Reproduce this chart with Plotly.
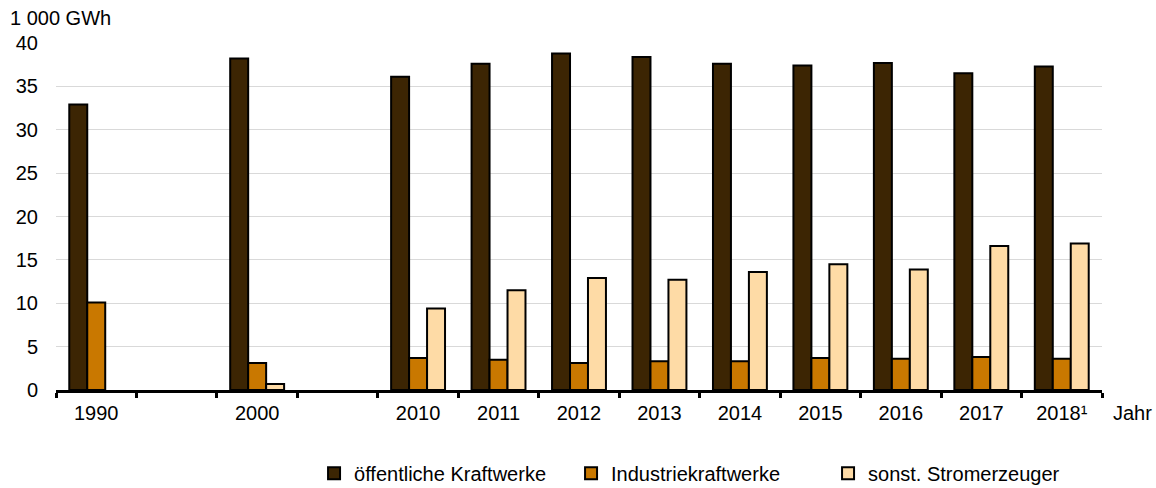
import plotly.graph_objects as go

categories = ["1990", " ", "2000", "  ", "2010", "2011", "2012", "2013",
              "2014", "2015", "2016", "2017", "2018¹"]
oeffentliche = [32.9, None, 38.2, None, 36.1, 37.6, 38.8, 38.4, 37.6, 37.4, 37.7, 36.5, 37.3]
industrie = [10.1, None, 3.1, None, 3.7, 3.5, 3.1, 3.3, 3.3, 3.7, 3.6, 3.8, 3.6]
sonstige = [None, None, 0.7, None, 9.4, 11.5, 12.9, 12.7, 13.6, 14.5, 13.9, 16.6, 16.9]
series_names = ["öffentliche Kraftwerke", "Industriekraftwerke", "sonst. Stromerzeuger"]
colors = ["#3c2503", "#c97800", "#fedba6"]
y_ticks = [0, 5, 10, 15, 20, 25, 30, 35, 40]

FONT = "Liberation Sans, Arial, sans-serif"

fig = go.Figure()
for name, vals, col in zip(series_names, [oeffentliche, industrie, sonstige], colors):
    fig.add_trace(go.Bar(
        x=categories, y=vals, name=name,
        marker=dict(color=col, line=dict(color="#000000", width=2)),
    ))

fig.update_layout(
    width=1156, height=488,
    margin=dict(l=56, r=54, t=43, b=98, autoexpand=False),
    paper_bgcolor="white", plot_bgcolor="white",
    barmode="group", bargap=0.33, bargroupgap=0,
    font=dict(family=FONT, size=20, color="#000000"),
    showlegend=True,
    legend=dict(
        orientation="h", x=0.2467, xanchor="left", y=-0.24, yanchor="middle",
        font=dict(size=20), entrywidthmode="pixels", entrywidth=212,
        itemwidth=30, bgcolor="rgba(0,0,0,0)",
    ),
    xaxis=dict(
        type="category", categoryorder="array", categoryarray=categories,
        showline=True, linecolor="#000000", linewidth=3,
        ticks="outside", tickson="boundaries", ticklen=5, tickwidth=3,
        tickcolor="#000000", ticklabelstandoff=3, automargin=False,
        showgrid=False, tickfont=dict(size=20),
    ),
    yaxis=dict(
        range=[0, 40], tickvals=y_ticks, showgrid=True,
        gridcolor="#d9d9d9", gridwidth=1, zeroline=False,
        showline=False, ticks="", ticklabelstandoff=17, automargin=False,
        tickfont=dict(size=20),
    ),
    annotations=[
        dict(text="1 000 GWh", xref="paper", yref="paper", x=-0.0459, y=1.072,
             xanchor="left", yanchor="middle", showarrow=False, font=dict(size=20)),
        dict(text="Jahr", xref="paper", yref="paper", x=1.0086, y=-0.066,
             xanchor="left", yanchor="middle", showarrow=False, font=dict(size=20)),
    ],
)

fig.write_html(
    "out.html",
    config={"displayModeBar": False},
    post_script="document.body.style.margin='0';document.body.style.padding='0';",
)
